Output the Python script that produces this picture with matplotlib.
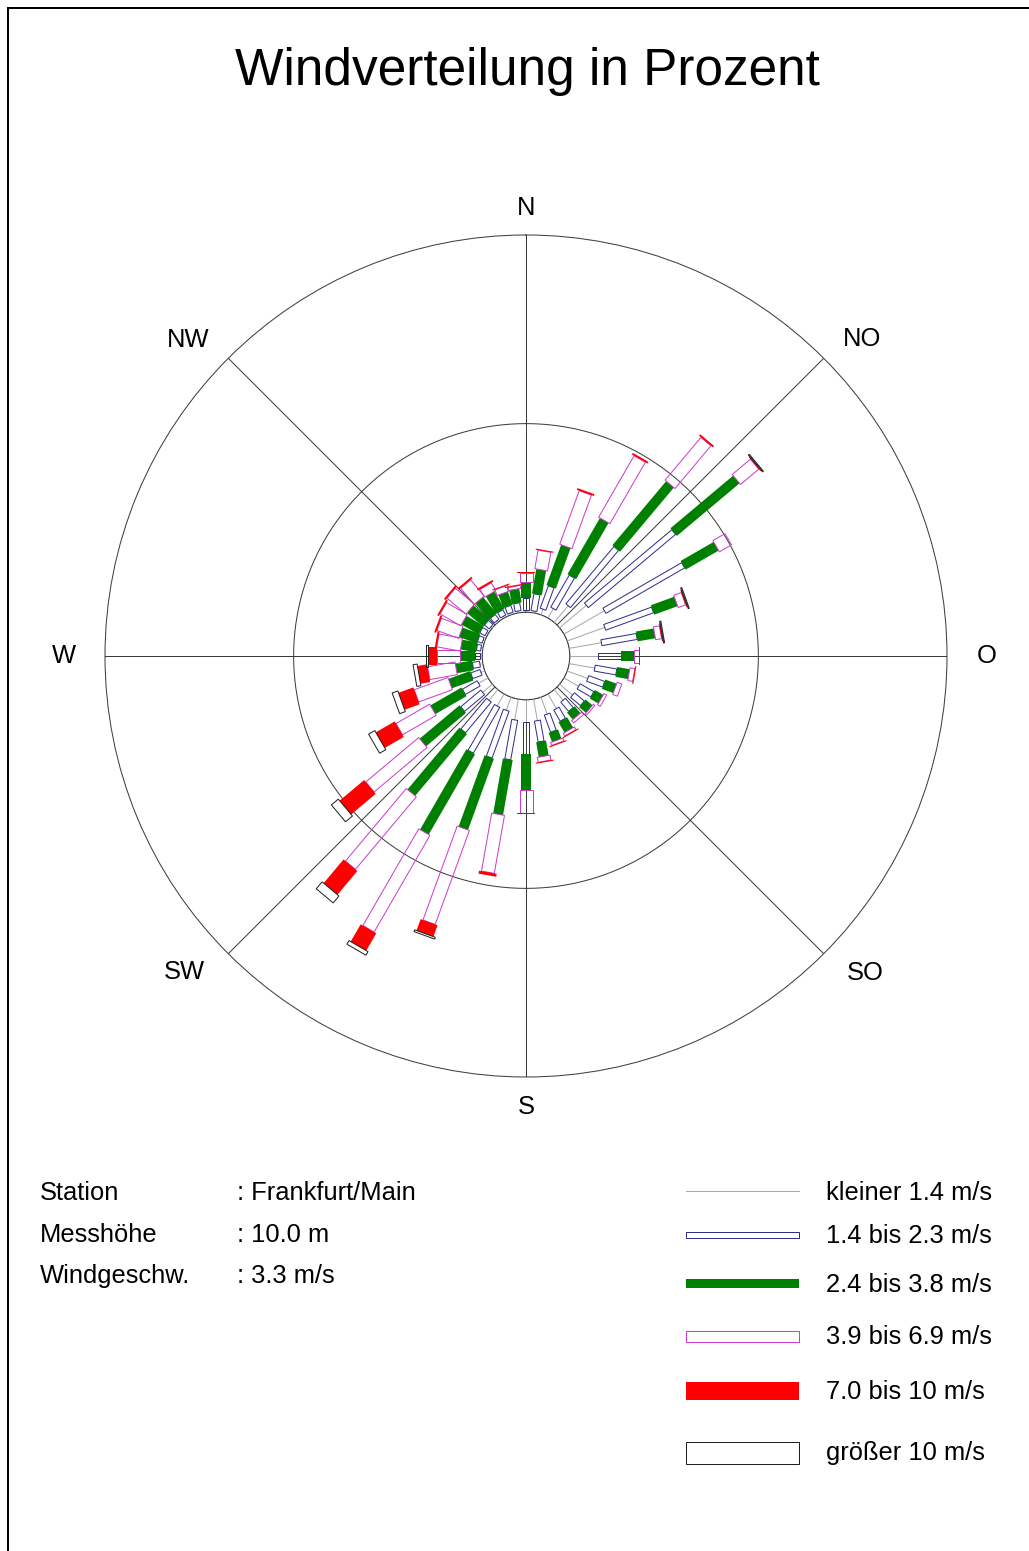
import matplotlib

matplotlib.use("Agg")

import matplotlib.pyplot as plt
import numpy as np
from matplotlib.patches import Polygon, Rectangle
from matplotlib.transforms import IdentityTransform

plt.rcParams["font.family"] = ["Liberation Sans", "DejaVu Sans"]

W_PX, H_PX, DPI = 1029, 1551, 100

# --- data: share of all hours (%) per 10 degree sector and speed class ---
DIRECTION_DEG = list(range(0, 360, 10))
SPEED_LABELS = [
    "kleiner 1.4 m/s",
    "1.4 bis 2.3 m/s",
    "2.4 bis 3.8 m/s",
    "3.9 bis 6.9 m/s",
    "7.0 bis 10 m/s",
    "größer 10 m/s",
]
FREQ_LT_14 = [0.05, 0.05, 0.16, 0.29, 0.58, 0.93, 1.24, 1.06, 0.87, 0.74, 0.69, 0.58,
              0.45, 0.45, 0.37, 0.45, 0.48, 0.58, 0.58, 0.56, 0.37, 0.37, 0.37, 0.34,
              0.29, 0.11, 0.08, 0.05, 0.05, 0.05, 0.05, 0.05, 0.05, 0.05, 0.05, 0.05]
FREQ_14_23 = [0.32, 0.45, 0.63, 0.98, 1.98, 3.02, 2.41, 1.35, 0.95, 0.63, 0.58, 0.45,
              0.42, 0.34, 0.32, 0.34, 0.48, 0.56, 0.87, 1.06, 1.32, 1.40, 1.06, 0.69,
              0.45, 0.26, 0.19, 0.13, 0.11, 0.13, 0.16, 0.16, 0.16, 0.16, 0.19, 0.21]
FREQ_24_38 = [0.42, 0.66, 1.14, 1.72, 2.22, 2.17, 1.01, 0.66, 0.48, 0.34, 0.34, 0.32,
              0.26, 0.24, 0.24, 0.32, 0.26, 0.40, 0.93, 1.48, 2.01, 2.46, 2.14, 1.38,
              0.95, 0.61, 0.45, 0.40, 0.42, 0.50, 0.53, 0.56, 0.56, 0.53, 0.37, 0.37]
FREQ_39_69 = [0.24, 0.50, 1.51, 1.88, 1.48, 0.63, 0.37, 0.21, 0.16, 0.13, 0.13, 0.13,
              0.08, 0.05, 0.08, 0.08, 0.08, 0.13, 0.61, 1.56, 2.65, 2.96, 2.51, 1.83,
              1.03, 0.95, 0.74, 0.61, 0.63, 0.61, 0.63, 0.66, 0.56, 0.24, 0.16, 0.08]
FREQ_70_10 = [0.03, 0.03, 0.05, 0.05, 0.05, 0.03, 0.00, 0.03, 0.03, 0.03, 0.03, 0.01,
              0.01, 0.01, 0.01, 0.03, 0.03, 0.03, 0.05, 0.08, 0.32, 0.53, 0.82, 0.85,
              0.58, 0.42, 0.26, 0.24, 0.05, 0.05, 0.05, 0.05, 0.05, 0.05, 0.03, 0.03]
FREQ_GT_10 = [0.00, 0.00, 0.00, 0.00, 0.00, 0.03, 0.00, 0.03, 0.03, 0.00, 0.00, 0.00,
              0.00, 0.00, 0.00, 0.00, 0.00, 0.00, 0.00, 0.00, 0.05, 0.11, 0.24, 0.24,
              0.19, 0.16, 0.11, 0.05, 0.00, 0.00, 0.00, 0.00, 0.00, 0.00, 0.00, 0.00]

COMPASS_LABELS = ["N", "NO", "O", "SO", "S", "SW", "W", "NW"]
RING_LABELS = ["5%", "10%"]
STATION_ROWS = [("Station", ": Frankfurt/Main"),
                ("Messhöhe", ": 10.0 m"),
                ("Windgeschw.", ": 3.3 m/s")]

# --- style per speed class: (kind, colour, bar width in px) ---
CLASS_STYLES = [
    ("line", "#a8a8a8", 1),
    ("box", "#2e2e8e", 6),
    ("fill", "#008000", 10),
    ("box", "#cc3ccc", 13),
    ("fill", "#ff0000", 18),
    ("box", "#202020", 22),
]
LEGEND_HEIGHT = [1, 6, 9, 11, 18, 22]
GRID_COLOR = "#3a3a3a"
PX = 72.0 / DPI  # one pixel in points
FS = 18.4

CENTER_PX = (526, 656)
OUTER_R_PX = 421
R_MAX = 10.0
R_ORIGIN = -1.16


def radial_box(ax, theta, r_start, r_end, width_px, face, edge):
    p0 = ax.transData.transform((theta, r_start))
    p1 = ax.transData.transform((theta, r_end))
    u = p1 - p0
    length = np.hypot(u[0], u[1])
    if length < 0.4:
        return
    u = u / length
    n = np.array([-u[1], u[0]]) * width_px / 2.0
    poly = Polygon(
        [p0 + n, p1 + n, p1 - n, p0 - n],
        closed=True,
        transform=IdentityTransform(),
        facecolor=face,
        edgecolor=edge,
        linewidth=PX if edge != "none" else 0,
        clip_on=False,
        zorder=4,
    )
    ax.add_artist(poly)


fig = plt.figure(figsize=(W_PX / DPI, H_PX / DPI), dpi=DPI)

# canvas in pixel units for frame, title, station data and legend
canvas = fig.add_axes([0, 0, 1, 1])
canvas.set_xlim(0, W_PX)
canvas.set_ylim(H_PX, 0)
canvas.axis("off")
canvas.plot([8, 8], [8, H_PX + 5], color="black", lw=2 * PX)
canvas.plot([8, W_PX + 5], [8, 8], color="black", lw=2 * PX)
canvas.text(527, 85, "Windverteilung in Prozent", ha="center", va="baseline", fontsize=37)

for i, (name, value) in enumerate(STATION_ROWS):
    y = 1193 + i * 41.5
    canvas.text(40, y, name, ha="left", va="center", fontsize=FS)
    canvas.text(237, y, value, ha="left", va="center", fontsize=FS)

legend_y = [1191, 1235, 1283.5, 1336, 1391, 1452.5]
legend_text_y = [1193, 1236, 1285, 1337, 1392, 1453]
for (kind, color, width), h, label, y, ty in zip(CLASS_STYLES, LEGEND_HEIGHT, SPEED_LABELS,
                                                  legend_y, legend_text_y):
    if kind == "line":
        canvas.plot([686, 799], [y, y], color=color, lw=PX)
    else:
        canvas.add_patch(Rectangle(
            (686, y - h / 2), 113, h,
            facecolor=color if kind == "fill" else "none",
            edgecolor=color if kind == "box" else "none",
            linewidth=PX,
        ))
    canvas.text(826, ty, label, ha="left", va="center", fontsize=FS)

# polar wind rose
cx, cy = CENTER_PX
ax = fig.add_axes([
    (cx - OUTER_R_PX) / W_PX,
    (H_PX - cy - OUTER_R_PX) / H_PX,
    2 * OUTER_R_PX / W_PX,
    2 * OUTER_R_PX / H_PX,
], projection="polar")
ax.set_theta_zero_location("N")
ax.set_theta_direction(-1)
ax.set_rorigin(R_ORIGIN)
ax.set_ylim(0, R_MAX)
ax.set_xticks([])
ax.set_yticks([])
ax.grid(False)
ax.patch.set_alpha(0)
for name, spine in ax.spines.items():
    spine.set_visible(name == "polar")
    spine.set_linewidth(PX)
    spine.set_edgecolor(GRID_COLOR)

full = np.linspace(0, 2 * np.pi, 721)
for r in (0.0, 5.0):
    ax.plot(full, np.full_like(full, r), color=GRID_COLOR, lw=PX, zorder=1)
for k in range(8):
    th = np.deg2rad(45 * k)
    ax.plot([th, th], [0, R_MAX], color=GRID_COLOR, lw=PX, zorder=1)

label_deg = [0, 46.7, 90, 133.0, 180, 227.2, 270, 313.1]
label_r = [10.72, 11.08, 11.05, 11.15, 10.8, 11.17, 11.08, 11.1]
for lab, deg, r in zip(COMPASS_LABELS, label_deg, label_r):
    ax.text(np.deg2rad(deg), r, lab, ha="center", va="center", fontsize=FS, clip_on=False)

for lab, r in zip(RING_LABELS, (5.0, 10.0)):
    ax.annotate(lab, xy=(np.pi / 2, r), xytext=(-1, -4), textcoords="offset pixels",
                ha="right", va="top", fontsize=FS)

ax.apply_aspect()
freq = np.array([FREQ_LT_14, FREQ_14_23, FREQ_24_38, FREQ_39_69, FREQ_70_10, FREQ_GT_10])
cum = np.cumsum(freq, axis=0)
for j, deg in enumerate(DIRECTION_DEG):
    th = np.deg2rad(deg)
    start = 0.0
    for c, (kind, color, width) in enumerate(CLASS_STYLES):
        end = cum[c, j]
        if kind == "line":
            ax.plot([th, th], [start, end], color=color, lw=PX, zorder=3)
        elif kind == "fill":
            radial_box(ax, th, start, end, width, color, "none")
        else:
            radial_box(ax, th, start, end, width, "none", color)
        start = end

fig.savefig("out.png", dpi=DPI)
